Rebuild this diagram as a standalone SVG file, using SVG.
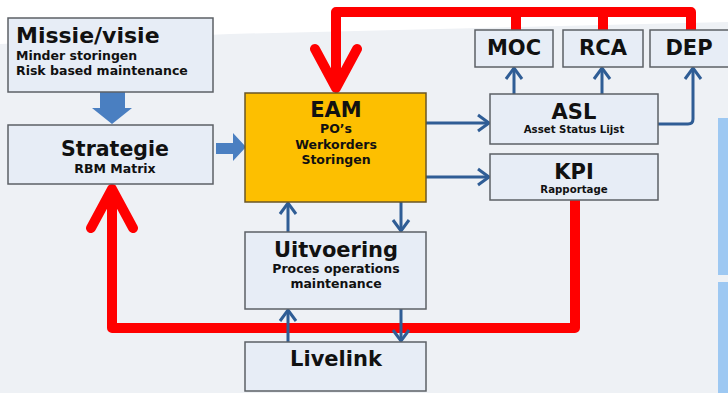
<svg xmlns="http://www.w3.org/2000/svg" width="728" height="393" viewBox="0 0 728 393">
<style>
.box{fill:#e7edf6;stroke:#5c6066;stroke-width:1.5}
.eam{fill:#fdbf00;stroke:#6a5626;stroke-width:1.5}
text{font-family:"DejaVu Sans","Verdana",sans-serif;font-weight:bold;fill:#111}
.t1{font-size:21px}
.t2{font-size:12.5px}
.t3{font-size:10.2px}
.c{text-anchor:middle}
.blue{fill:none;stroke:#2f5d95;stroke-width:3;marker-end:url(#ah)}
.red{fill:none;stroke:#ff0000;stroke-width:10;stroke-linejoin:round;stroke-linecap:round}
.blk{fill:#4a7fc1}
</style>
<defs>
<marker id="ah" markerUnits="userSpaceOnUse" viewBox="-2 -10 16 20" refX="11" refY="0" markerWidth="16" markerHeight="20" orient="auto">
<path d="M0,-8 L11,0 L0,8" fill="none" stroke="#2f5d95" stroke-width="3"/>
</marker>
</defs>
<rect width="728" height="393" fill="#ffffff"/>
<polygon points="0,44 230,34 728,22 728,393 0,393" fill="#eef1f5"/>
<rect x="718" y="118" width="12" height="157" fill="#9dc8f2"/>
<rect x="718" y="282" width="12" height="115" fill="#9dc8f2"/>

<g id="connectors">
<path class="red" d="M336,88 L336,12 L691,12 L691,30 M516,12 V30 M603,12 V30 M315,49 L336,88 L357,49"/>
<path class="red" d="M575,200 V328 H112 V189 M91,228 L112,189 L133,228"/>
<path class="blk" d="M100,92 H125 V108 H132 L112,124 L92,108 H100 Z"/>
<path class="blk" d="M216,143 H233 V133 L246,147 L233,161 V154 H216 Z"/>
<path class="blue" d="M426,123 H489"/>
<path class="blue" d="M426,177 H489"/>
<path class="blue" d="M514,94 V68"/>
<path class="blue" d="M602,94 V68"/>
<path class="blue" d="M658,124 H688 Q693,124 693,119 V68"/>
<path class="blue" d="M288,232 V203"/>
<path class="blue" d="M401,202 V231"/>
<path class="blue" d="M288,342 V310"/>
<path class="blue" d="M401,309 V341"/>
</g>

<g id="missie">
<rect class="box" x="8" y="18" width="205" height="74"/>
<text x="16" y="43" style="font-size:22px">Missie/visie</text>
<text class="t2" x="16" y="60">Minder storingen</text>
<text class="t2" x="16" y="75">Risk based maintenance</text>
</g>
<g id="strategie">
<rect class="box" x="8" y="125" width="205" height="59"/>
<text class="c" x="115" y="156" style="font-size:20.5px">Strategie</text>
<text class="c t2" x="115" y="173">RBM Matrix</text>
</g>
<g id="eam">
<rect class="eam" x="245" y="93" width="181" height="109"/>
<text class="c t1" x="336" y="117">EAM</text>
<text class="c t2" x="336" y="133">PO’s</text>
<text class="c t2" x="336" y="149">Werkorders</text>
<text class="c t2" x="336" y="164">Storingen</text>
</g>
<g id="moc">
<rect class="box" x="475" y="30" width="78" height="37"/>
<text class="c t1" x="514" y="55">MOC</text>
</g>
<g id="rca">
<rect class="box" x="563" y="30" width="80" height="37"/>
<text class="c t1" x="603" y="55">RCA</text>
</g>
<g id="dep">
<rect class="box" x="650" y="30" width="90" height="37"/>
<text class="c t1" x="689" y="55">DEP</text>
</g>
<g id="asl">
<rect class="box" x="490" y="94" width="168" height="50"/>
<text class="c t1" x="574" y="119">ASL</text>
<text class="c t3" x="574" y="133">Asset Status Lijst</text>
</g>
<g id="kpi">
<rect class="box" x="490" y="154" width="168" height="46"/>
<text class="c t1" x="574" y="179">KPI</text>
<text class="c t3" x="574" y="193">Rapportage</text>
</g>
<g id="uitvoering">
<rect class="box" x="245" y="232" width="181" height="77"/>
<text class="c t1" x="336" y="257">Uitvoering</text>
<text class="c t2" x="336" y="273">Proces operations</text>
<text class="c t2" x="336" y="288">maintenance</text>
</g>
<g id="livelink">
<rect class="box" x="245" y="342" width="181" height="49"/>
<text class="c t1" x="336" y="366">Livelink</text>
</g>
</svg>
